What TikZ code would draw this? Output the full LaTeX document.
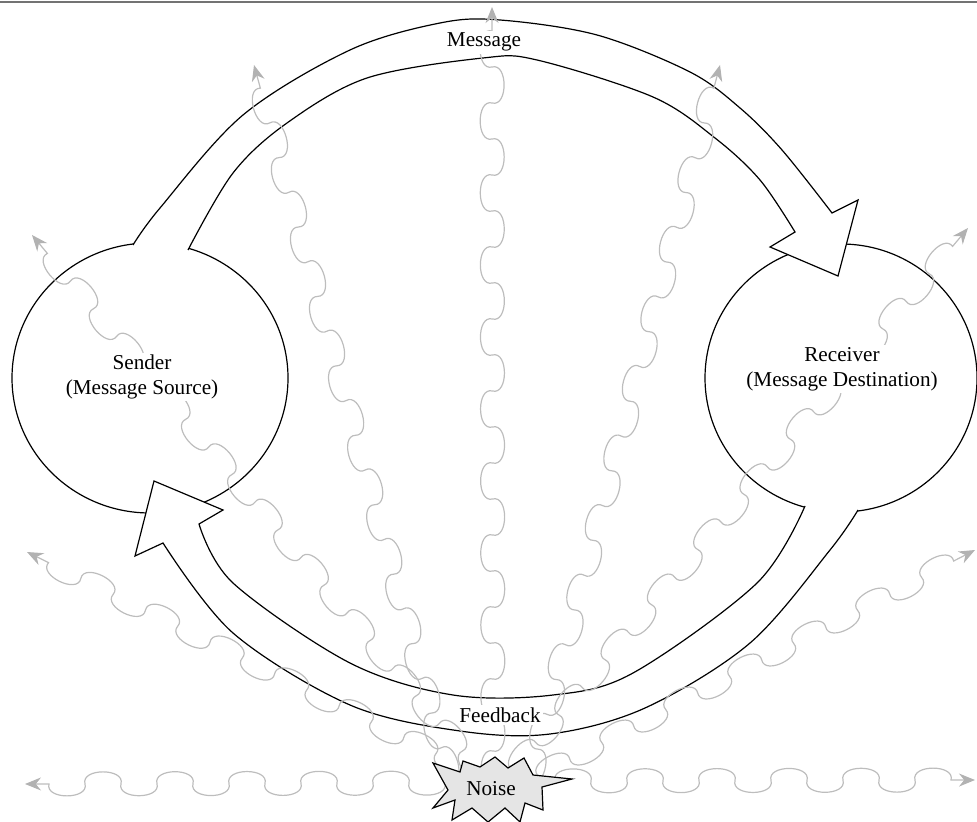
\documentclass[tikz,border=0pt]{standalone}
\usepackage{fontspec}
\setmainfont{Liberation Serif}
\usetikzlibrary{shapes.geometric,decorations.pathmorphing,arrows.meta}

\definecolor{wavegrey}{gray}{0.74}
\definecolor{wavetip}{gray}{0.70}
\definecolor{burstgrey}{gray}{0.90}
\definecolor{rulegrey}{gray}{0.45}

% a wave made of alternating round bumps; one bump per segment
\pgfdeclaredecoration{ripple}{down}{
  \state{down}[width=\pgfdecorationsegmentlength, next state=up,
               switch if less than=\pgfdecorationsegmentlength to final]{
    \pgfpathlineto{\pgfpointorigin}
    \pgfpathcurveto
      {\pgfpoint{-0.12\pgfdecorationsegmentlength}{-1.33\pgfdecorationsegmentamplitude}}
      {\pgfpoint{1.12\pgfdecorationsegmentlength}{-1.33\pgfdecorationsegmentamplitude}}
      {\pgfpoint{\pgfdecorationsegmentlength}{0pt}}
  }
  \state{up}[width=\pgfdecorationsegmentlength, next state=down,
             switch if less than=\pgfdecorationsegmentlength to final]{
    \pgfpathcurveto
      {\pgfpoint{-0.12\pgfdecorationsegmentlength}{1.33\pgfdecorationsegmentamplitude}}
      {\pgfpoint{1.12\pgfdecorationsegmentlength}{1.33\pgfdecorationsegmentamplitude}}
      {\pgfpoint{\pgfdecorationsegmentlength}{0pt}}
  }
  \state{final}{\pgfpathlineto{\pgfpointdecoratedpathlast}}
}

\begin{document}
\begin{tikzpicture}[x=0.5pt, y=-0.5pt,
  outline/.style={draw=black, line width=0.6pt, line join=miter},
  party/.style={ellipse, draw=black, line width=0.6pt, inner sep=0pt},
  tag/.style={fill=white, inner sep=1.2pt, align=center,
              font=\fontsize{10.6}{12.3}\selectfont},
  noisewave/.style={draw=wavegrey, line width=0.6pt,
    {Stealth[length=8pt, width=6.5pt, inset=2.6pt, color=wavetip]}-,
    decorate, decoration={ripple, amplitude=6pt, segment length=18pt, pre length=12pt}},
  burst/.style={draw=black, fill=burstgrey, line width=0.6pt, line join=miter},
  rulestyle/.style={draw=rulegrey, line width=1pt}]

\useasboundingbox (0,0) rectangle (977,822);

% top rule
\draw[rulestyle] (0,2) -- (977,2);

% the two parties
\node[party, minimum width=138pt, minimum height=135pt] (sender) at (150,378) {};
\node[party, minimum width=136pt, minimum height=134pt] (receiver) at (841,378) {};

% message channel: white body first, then its outline (left open at the sender)
\fill[white]
  plot[smooth, tension=0.55] coordinates {(133,245) (160,208) (243,115) (350,50) (440,23) (500,20) (597,35) (690,72) (740,108) (782,150) (832,213)}
  -- (858,200) -- (838,276) -- (770,247)
  -- plot[smooth, tension=0.55] coordinates {(795,232) (760,180) (715,138) (653,97) (537,60) (483,58) (367,78) (287,123) (233,173) (188,250)}
  -- cycle;
\draw[outline]
  plot[smooth, tension=0.55] coordinates {(133,245) (160,208) (243,115) (350,50) (440,23) (500,20) (597,35) (690,72) (740,108) (782,150) (832,213)}
  -- (858,200) -- (838,276) -- (770,247)
  -- plot[smooth, tension=0.55] coordinates {(795,232) (760,180) (715,138) (653,97) (537,60) (483,58) (367,78) (287,123) (233,173) (188,250)};

% feedback channel
\fill[white]
  plot[smooth, tension=0.55] coordinates {(858,510) (830,550) (750,643) (645,708) (550,734) (460,731) (350,705) (233,633) (163,543)}
  -- (135,556) -- (154,481) -- (223,510)
  -- plot[smooth, tension=0.55] coordinates {(199,524) (233,583) (350,663) (453,695) (553,695) (633,673) (757,583) (805,506)}
  -- cycle;
\draw[outline]
  plot[smooth, tension=0.55] coordinates {(858,510) (830,550) (750,643) (645,708) (550,734) (460,731) (350,705) (233,633) (163,543)}
  -- (135,556) -- (154,481) -- (223,510)
  -- plot[smooth, tension=0.55] coordinates {(199,524) (233,583) (350,663) (453,695) (553,695) (633,673) (757,583) (805,506)};

% noise waves: outer tips and their sources inside the burst
\coordinate (tip-w)  at (25,784);   \coordinate (src-w)  at (470,783);
\coordinate (tip-e)  at (975,780);  \coordinate (src-e)  at (525,781);
\coordinate (tip-sw) at (27,552);   \coordinate (src-sw) at (500,785);
\coordinate (tip-se) at (975,550);  \coordinate (src-se) at (500,795);
\coordinate (tip-nw) at (32,235);   \coordinate (src-nw) at (495,790);
\coordinate (tip-ne) at (968,228);  \coordinate (src-ne) at (496,790);
\coordinate (tip-nnw) at (254,65);  \coordinate (src-nnw) at (453,790);
\coordinate (tip-nne) at (720,65);  \coordinate (src-nne) at (527,790);
\coordinate (tip-n)  at (492,7);    \coordinate (src-n)  at (493,790);

\foreach \w in {w,e,sw,se,nw,ne,nnw,nne,n}
  \draw[noisewave] (tip-\w) -- (src-\w);

% noise burst
\draw[burst] (433,763) -- (460,772) -- (463,761) -- (480,767) -- (495,757) -- (508,768)
  -- (524,758) -- (533,775) -- (572,779) -- (542,787) -- (543,810) -- (525,803)
  -- (520,822) -- (505,808) -- (488,822) -- (472,808) -- (452,820) -- (455,800)
  -- (433,808) -- (448,790) -- cycle;
\node[font=\fontsize{10.6}{12.3}\selectfont, inner sep=0pt, anchor=base] (noise) at (491,795) {Noise};

% labels
\node[tag] (sender-text) at (142,377) {Sender\\(Message Source)};
\node[tag] (receiver-text) at (842,369) {Receiver\\(Message Destination)};
\node[tag, anchor=base] (message) at (484,47) {Message};
\node[tag, anchor=base] (feedback) at (500,722) {Feedback};

\end{tikzpicture}
\end{document}
